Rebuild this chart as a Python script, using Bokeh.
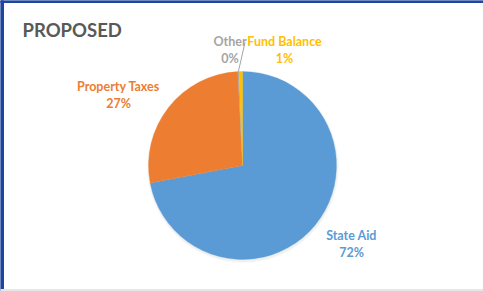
import math
from bokeh.plotting import figure
from bokeh.models import Range1d, ColumnDataSource
from bokeh.core.properties import value
from bokeh.embed import file_html
from bokeh.resources import INLINE

# ---- data (clockwise from 12 o'clock) ----
categories = ["State Aid", "Property Taxes", "Other", "Fund Balance"]
shares = [72.0, 27.2, 0.2, 0.6]
colors = ["#5B9BD5", "#ED7D31", "#A5A5A5", "#FFC000"]
title_text = "PROPOSED"

# ---- layout (figure pixel coordinates, y measured from top) ----
W, H = 483, 291
cx, cy_top, R = 242, 165, 94
label_pos = {
    "State Aid": (351, 235),
    "Property Taxes": (118, 86),
    "Other": (229.5, 41),
    "Fund Balance": (284, 41),
}
line_gap = 17
FONT = value("Lato")

def fy(y_top):
    return H - y_top

p = figure(width=W, height=H, x_range=Range1d(0, W), y_range=Range1d(0, H),
           output_backend="svg", toolbar_location=None, min_border=0)
p.axis.visible = False
p.grid.visible = False
p.outline_line_color = None
p.background_fill_color = "white"
p.border_fill_color = "white"

# frame lines
p.quad(left=0, right=3, bottom=0, top=H, color="#1F45A0")
p.quad(left=0, right=W, bottom=H - 2, top=H, color="#1F45A0")
p.quad(left=0, right=W, bottom=0, top=2, color="#E6E6E6")

# soft shadow
cy = fy(cy_top)
for r, a in [(96, 0.04), (95, 0.08)]:
    p.circle(x=[cx + 0.5], y=[cy - 1.5], radius=r, radius_units="screen",
             fill_color="#808080", fill_alpha=a, line_color=None)

# wedges
total = sum(shares)
starts, ends, mids = [], [], []
cum = 0.0
for s in shares:
    a0 = math.pi / 2 - 2 * math.pi * cum / total
    cum += s
    a1 = math.pi / 2 - 2 * math.pi * cum / total
    starts.append(a0)
    ends.append(a1)
    mids.append((a0 + a1) / 2)

src = ColumnDataSource(dict(start=starts, end=ends, color=colors, cat=categories))
p.wedge(x=cx, y=cy, radius=R, radius_units="screen", start_angle="start",
        end_angle="end", direction="clock", fill_color="color",
        line_color="color", line_width=0.3, source=src)

# leader line for "Other"
i_other = categories.index("Other")
ex = cx + R * math.cos(mids[i_other])
ey = cy + R * math.sin(mids[i_other])
p.line(x=[244.5, ex], y=[fy(42), ey], line_color="#A5A5A5", line_width=1)

# labels
for cat, s, col in zip(categories, shares, colors):
    lx, ly = label_pos[cat]
    pct = f"{round(s / total * 100):.0f}%"
    p.text(x=[lx, lx], y=[fy(ly), fy(ly + line_gap)], text=[cat, pct],
           text_color=col, text_font=FONT, text_font_style="bold",
           text_font_size="12.5px", text_align="center", text_baseline="middle")

# title
p.text(x=[22], y=[fy(29)], text=[title_text], text_color="#595959",
       text_font=FONT, text_font_style="bold", text_font_size="18.5px",
       text_align="left", text_baseline="alphabetic")

open("out.html", "w").write(file_html(p, INLINE))
